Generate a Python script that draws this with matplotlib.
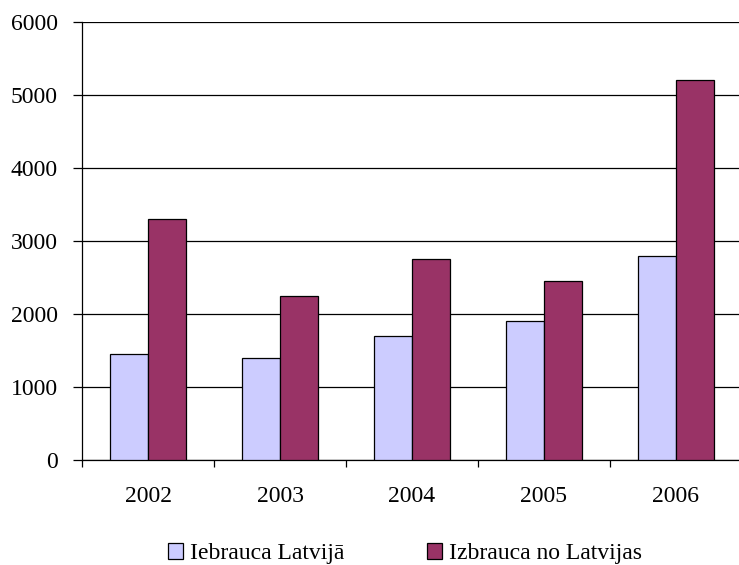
import matplotlib.pyplot as plt
from matplotlib.patches import Patch
import numpy as np

# data
years = ['2002', '2003', '2004', '2005', '2006']
iebrauca = [1450, 1400, 1700, 1900, 2800]
izbrauca = [3300, 2250, 2750, 2450, 5200]
series_names = ['Iebrauca Latvijā', 'Izbrauca no Latvijas']

plt.rcParams['font.family'] = ['Liberation Serif', 'DejaVu Serif']
light = '#CCCCFF'
dark = '#993366'
fsize = 17

fig = plt.figure(figsize=(7.39, 5.65), dpi=100)
ax = fig.add_axes([0.111, 0.186, 0.893, 0.775])

ind = np.arange(len(years)) + 0.5
width = 0.29
ax.bar(ind - width / 2, iebrauca, width, color=light, edgecolor='black', linewidth=0.9, zorder=3)
ax.bar(ind + width / 2, izbrauca, width, color=dark, edgecolor='black', linewidth=0.9, zorder=3)

ax.set_ylim(0, 6000)
ax.set_xlim(0, len(years))
ax.set_yticks(range(0, 6001, 1000))
ax.yaxis.grid(True, color='black', linewidth=0.9, zorder=0)
ax.tick_params(axis='y', length=6.5, width=0.9, labelsize=fsize, pad=11)

# year labels in the middle, tick marks between the groups
ax.set_xticks(ind)
ax.set_xticklabels(years)
ax.set_xticks(np.arange(len(years) + 1), minor=True)
ax.tick_params(axis='x', which='major', length=0, labelsize=fsize, pad=19)
ax.tick_params(axis='x', which='minor', length=5, width=0.9)

for s in ['top', 'right']:
    ax.spines[s].set_visible(False)
ax.spines['left'].set_linewidth(0.9)
ax.spines['bottom'].set_linewidth(0.9)

handles = [Patch(facecolor=light, edgecolor='black', linewidth=0.9),
           Patch(facecolor=dark, edgecolor='black', linewidth=0.9)]
fig.legend(handles, series_names, loc='center', bbox_to_anchor=(0.548, 0.02), ncol=2,
           frameon=False, fontsize=fsize, handlelength=0.62, handleheight=0.62,
           handletextpad=0.3, columnspacing=3.5, borderpad=0)

fig.savefig('out.png', dpi=100)
